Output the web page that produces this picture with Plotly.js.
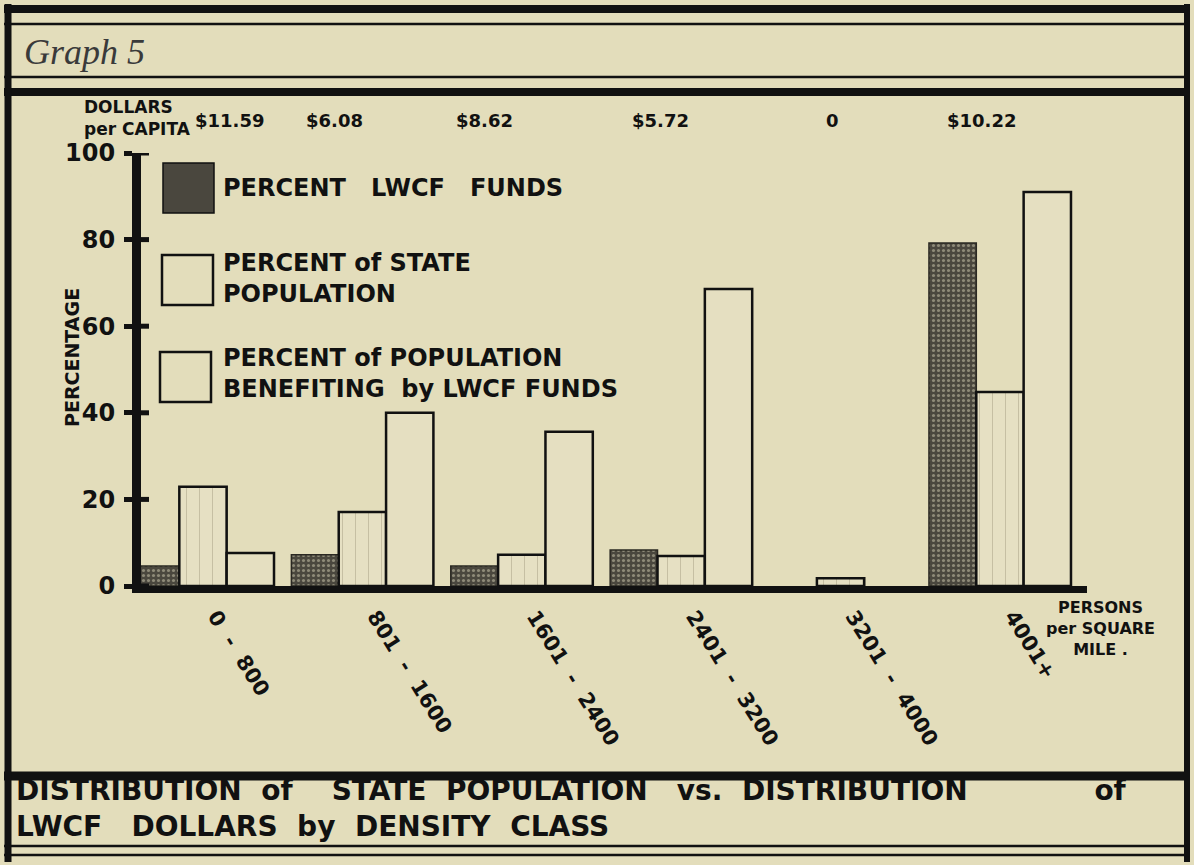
<!DOCTYPE html>
<html><head><meta charset="utf-8">
<script src="https://cdn.plot.ly/plotly-3.0.1.min.js"></script>
<style>html,body{margin:0;padding:0;background:#e3ddbb;} #chart{width:1194px;height:865px;}</style>
</head><body><div id="chart"></div>
<script>
// ---- data ----
const NB = "\u00a0";
const sp = n => NB.repeat(n);
const categories = ["0 - 800", "801 - 1600", "1601 - 2400", "2401 - 3200", "3201 - 4000", "4001+"];
const tickLabels = ["0" + sp(2) + "-" + sp(2) + "800", "801" + sp(2) + "-" + sp(2) + "1600", "1601" + sp(2) + "-" + sp(2) + "2400",
                    "2401" + sp(2) + "-" + sp(2) + "3200", "3201" + sp(2) + "-" + sp(2) + "4000", "4001+"];
const lwcfFunds = [4.6, 7.2, 4.6, 8.3, 0, 79.2];
const statePopulation = [22.9, 17.1, 7.2, 6.9, 1.8, 44.8];
const populationBenefiting = [7.6, 40, 35.6, 68.6, 0, 91];
const dollarsPerCapita = ["$11.59", "$6.08", "$8.62", "$5.72", "0", "$10.22"];
const yTicks = [0, 20, 40, 60, 80, 100];
const seriesNames = ["PERCENT LWCF FUNDS", "PERCENT of STATE POPULATION", "PERCENT of POPULATION BENEFITING by LWCF FUNDS"];

// ---- layout helpers (pixels -> paper) ----
const L = 141, R = 1087, T = 153, B = 586, W = 1194, H = 865;
const pw = R - L, ph = B - T;
const fx = x => (x - L) / pw;
const fy = y => (B - y) / ph;
const SANS = "DejaVu Sans, Liberation Sans, Arial, sans-serif";
const BG = "#e3ddbb";
const xs = categories.map((c, i) => i);
const edge = (vals, w) => vals.map(v => (v === 0 ? 0 : w));

const traces = [
  {type: "bar", name: seriesNames[0], x: xs, y: lwcfFunds,
   marker: {color: "#55524a", line: {color: "#2a2822", width: edge(lwcfFunds, 1.5)},
            pattern: {shape: ".", fgcolor: "#8e8a78", bgcolor: "#4a473e", size: 5, solidity: 0.3}}},
  {type: "bar", name: seriesNames[1], x: xs, y: statePopulation,
   marker: {color: "#e6e0c3", line: {color: "#111", width: edge(statePopulation, 2.5)},
            pattern: {shape: "|", fgcolor: "#bdb699", bgcolor: "#e6e0c3", size: 13, solidity: 0.06}}},
  {type: "bar", name: seriesNames[2], x: xs, y: populationBenefiting,
   marker: {color: "#e5dfc1", line: {color: "#111", width: edge(populationBenefiting, 2.5)}}}
];

function hline(y, w, x0 = 4, x1 = 1190) {
  return {type: "line", xref: "paper", yref: "paper", x0: fx(x0), x1: fx(x1), y0: fy(y), y1: fy(y), line: {color: "#111", width: w}};
}
function vline(x, w, y0 = 4, y1 = 862) {
  return {type: "line", xref: "paper", yref: "paper", x0: fx(x), x1: fx(x), y0: fy(y0), y1: fy(y1), line: {color: "#111", width: w}};
}
function box(x0, y0, x1, y1, fill, lw) {
  return {type: "rect", xref: "paper", yref: "paper", x0: fx(x0), x1: fx(x1), y0: fy(y0), y1: fy(y1),
          fillcolor: fill, line: {color: "#111", width: lw}};
}

const shapes = [
  hline(9, 8), hline(24, 2.5), hline(77, 2.5), hline(92, 8),
  hline(776, 9), hline(846, 2.5), hline(855, 2.5),
  vline(8, 7), vline(1187, 6),
  box(163, 163, 214, 213, "#4a473e", 1.5),
  box(162, 255, 213, 305, "rgba(0,0,0,0)", 2.5),
  box(160, 352, 211, 402, "rgba(0,0,0,0)", 2.5),
  {type: "rect", xref: "paper", yref: "paper", x0: fx(132), x1: fx(141), y0: fy(593), y1: fy(586), fillcolor: "#111", line: {width: 0}}
];
// inside half of the cross ticks on the y axis
yTicks.forEach(v => shapes.push({type: "line", xref: "paper", yref: "y", x0: fx(141), x1: fx(149), y0: v, y1: v, line: {color: "#111", width: 5}}));

function txt(text, x, y, size, opts = {}) {
  return Object.assign({text: text, xref: "paper", yref: "paper", x: fx(x), y: fy(y), showarrow: false,
    xanchor: "left", yanchor: "middle", align: "left", font: {family: SANS, size: size, color: "#111", weight: "bold"}}, opts);
}

const annotations = [
  txt("Graph 5", 22, 52, 34, {font: {family: "Liberation Serif, DejaVu Serif, serif", size: 36, color: "#3a3a3a", style: "italic"}}),
  txt("DOLLARS<br>per CAPITA", 82, 118, 17),
  txt("PERCENT" + sp(3) + "LWCF" + sp(3) + "FUNDS", 221, 188, 24),
  txt("PERCENT of STATE<br>POPULATION", 221, 278, 24),
  txt("PERCENT of POPULATION<br>BENEFITING" + sp(2) + "by" + sp(1) + "LWCF" + sp(1) + "FUNDS", 221, 373, 24),
  txt("PERCENTAGE", 72, 358, 19, {textangle: -90, xanchor: "center"}),
  txt("PERSONS<br>per SQUARE<br>MILE .", 1100, 628, 16, {xanchor: "center", align: "center"}),
  txt("DISTRIBUTION" + sp(2) + "of" + sp(4) + "STATE" + sp(2) + "POPULATION" + sp(3) + "vs." + sp(2) + "DISTRIBUTION" + sp(13) + "of<br>" +
      "LWCF" + sp(3) + "DOLLARS" + sp(2) + "by" + sp(2) + "DENSITY" + sp(2) + "CLASS", 14, 808, 28)
];
// dollars per capita above each density class (text offsets only)
const dollarShift = [26, -28, -37, -21, -8, -18];
dollarsPerCapita.forEach((d, i) => annotations.push({text: d, xref: "x", yref: "paper", x: i, y: fy(121), xshift: dollarShift[i],
  showarrow: false, xanchor: "center", yanchor: "middle", font: {family: SANS, size: 18, color: "#111", weight: "bold"}}));

const layout = {
  width: W, height: H,
  margin: {l: L, r: W - R, t: T, b: H - B, pad: 0},
  paper_bgcolor: BG, plot_bgcolor: BG,
  showlegend: false,
  barmode: "group", bargap: 0.109, bargroupgap: 0,
  xaxis: {range: [-0.389, 5.546], tickvals: xs, ticktext: tickLabels, tickangle: 58,
          showline: true, linewidth: 7, linecolor: "#111", ticks: "", showgrid: false, zeroline: false,
          tickfont: {family: SANS, size: 21, color: "#111", weight: "bold"}, ticklabelstandoff: 3, ticklabelshift: 13, fixedrange: true},
  yaxis: {range: [0, 100], tickvals: yTicks, showline: true, linewidth: 9, linecolor: "#111",
          ticks: "outside", ticklen: 8, tickwidth: 5, tickcolor: "#111", showgrid: false, zeroline: false,
          tickfont: {family: SANS, size: 24, color: "#111", weight: "bold"}, ticklabelstandoff: 4, fixedrange: true},
  shapes: shapes,
  annotations: annotations
};

Plotly.newPlot("chart", traces, layout, {displayModeBar: false, staticPlot: true});
</script>
</body></html>
